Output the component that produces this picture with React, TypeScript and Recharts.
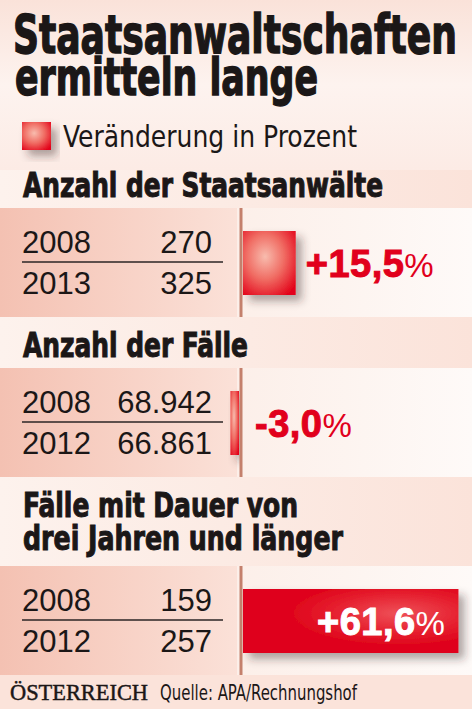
import React from "react";
import { BarChart, Bar, XAxis, YAxis, ReferenceLine } from "recharts";

// data
const headings = [
  ["Anzahl der Staatsanwälte"],
  ["Anzahl der Fälle"],
  ["Fälle mit Dauer von", "drei Jahren und länger"],
];
const fromYears = ["2008", "2008", "2008"];
const toYears = ["2013", "2012", "2012"];
const fromValues = ["270", "68.942", "159"];
const toValues = ["325", "66.861", "257"];
const changes = [15.5, -3.0, 61.6];

// layout
const W = 472;
const H = 709;
const BAND_H = 109;
const bandTop = [208, 368, 566];
const headingBase = [[197], [357], [517, 550]];
const headingWidth = [[360], [225], [275, 320]];
const X_MIN = -68.27;
const X_MAX = 65.44;

const RED = "#e1001c";
const INK = "#1b1717";
const COND = "'Liberation Sans Narrow', 'DejaVu Sans Condensed', 'Liberation Sans', Arial, sans-serif";
const SANS = "'Liberation Sans', Arial, sans-serif";

const fmt = (v: number) =>
  (v > 0 ? "+" : "-") + Math.abs(v).toFixed(1).replace(".", ",");

function ChangeBar(props: any) {
  const { x, y, width, height, payload } = props;
  const v = payload.change;
  const left = Math.min(x, x + width);
  const right = Math.max(x, x + width);
  const x0 = v >= 0 ? left + 2 : left;
  const x1 = v >= 0 ? right : right - 2;
  const wide = x1 - x0 > 120;
  const base = y + height / 2 + 14;
  let tx = x1 + 10;
  let anchor: "start" | "end" = "start";
  let color = RED;
  if (wide) {
    tx = x1 - 13;
    anchor = "end";
    color = "#ffffff";
  } else if (v < 0) {
    tx = right + 14;
  }
  return (
    <g>
      <rect
        x={x0}
        y={y}
        width={Math.max(x1 - x0, 1)}
        height={height}
        fill={wide ? "url(#barWide)" : "url(#barSoft)"}
        filter="url(#barShadow)"
      />
      <text
        x={tx}
        y={base}
        textAnchor={anchor}
        fill={color}
        fontFamily={SANS}
        fontWeight={700}
        fontSize={38}
        letterSpacing={0.5}
      >
        <tspan stroke={color} strokeWidth={1}>{fmt(v)}</tspan>
        <tspan fontWeight={400} fontSize={33}>%</tspan>
      </text>
    </g>
  );
}

function Panel({ i }: { i: number }) {
  const data = [{ name: "p" + i, change: changes[i] }];
  return (
    <div style={{ position: "absolute", left: 0, top: bandTop[i] }}>
      <BarChart
        width={W}
        height={BAND_H}
        data={data}
        layout="vertical"
        margin={{ top: 0, right: 0, bottom: 0, left: 0 }}
      >
        <XAxis type="number" domain={[X_MIN, X_MAX]} hide allowDataOverflow />
        <YAxis type="category" dataKey="name" hide />
        <ReferenceLine x={0} stroke="#c4806c" strokeWidth={3} />
        <Bar
          dataKey="change"
          barSize={64}
          shape={<ChangeBar />}
          isAnimationActive={false}
        />
      </BarChart>
    </div>
  );
}

function Background() {
  return (
    <svg width={W} height={H} style={{ position: "absolute", left: 0, top: 0 }}>
      <defs>
        <linearGradient id="topBg" x1="0" y1="0" x2="0" y2="1">
          <stop offset="0" stopColor="#fae2d9" />
          <stop offset="0.5" stopColor="#fdf3ef" />
          <stop offset="1" stopColor="#fcebe5" />
        </linearGradient>
        <linearGradient id="headBg" x1="0" y1="0" x2="1" y2="0">
          <stop offset="0" stopColor="#fdf2ed" />
          <stop offset="1" stopColor="#fbe3da" />
        </linearGradient>
        <linearGradient id="bandLeft" x1="0" y1="0" x2="1" y2="0">
          <stop offset="0" stopColor="#f4c1b2" />
          <stop offset="1" stopColor="#fbe1d8" />
        </linearGradient>
        <linearGradient id="bandRight" x1="0" y1="0" x2="1" y2="0">
          <stop offset="0" stopColor="#fcefe9" />
          <stop offset="1" stopColor="#fefaf8" />
        </linearGradient>
        <radialGradient id="barSoft" cx="0.42" cy="0.4" r="0.72">
          <stop offset="0" stopColor="#f8bcae" />
          <stop offset="0.5" stopColor="#f06c63" />
          <stop offset="1" stopColor="#e3051b" />
        </radialGradient>
        <radialGradient id="barWide" cx="0.72" cy="0.38" r="0.5">
          <stop offset="0" stopColor="#ee5058" />
          <stop offset="0.6" stopColor="#e6202f" />
          <stop offset="1" stopColor="#df041c" />
        </radialGradient>
        <filter id="barShadow" x="-20%" y="-20%" width="150%" height="160%">
          <feDropShadow dx="6" dy="6" stdDeviation="4" floodColor="#3a2a28" floodOpacity="0.4" />
        </filter>
      </defs>

      <rect x={0} y={0} width={W} height={H} fill="url(#headBg)" />
      <rect x={0} y={0} width={W} height={bandTop[0] - 38} fill="url(#topBg)" />
      {bandTop.map((t, i) => (
        <g key={i}>
          <rect x={0} y={t} width={237} height={BAND_H} fill="url(#bandLeft)" />
          <rect x={237} y={t} width={W - 237} height={BAND_H} fill="url(#bandRight)" />
        </g>
      ))}
      <rect x={0} y={bandTop[2] + BAND_H} width={W} height={H - bandTop[2] - BAND_H} fill="#fbe3da" />

      <g fill={INK} stroke={INK} fontFamily={COND} fontWeight={700}>
        <text x={13} y={53} fontSize={54} strokeWidth={1.4}
          textLength={444} lengthAdjust="spacingAndGlyphs">Staatsanwaltschaften</text>
        <text x={15} y={95} fontSize={52} strokeWidth={1.4}
          textLength={303} lengthAdjust="spacingAndGlyphs">ermitteln lange</text>
        {headings.map((lines, i) =>
          lines.map((s, j) => (
            <text key={i + "-" + j} x={23} y={headingBase[i][j]} fontSize={33} strokeWidth={1}
              textLength={headingWidth[i][j]} lengthAdjust="spacingAndGlyphs">{s}</text>
          ))
        )}
      </g>

      <rect x={22} y={122} width={29} height={28} fill="url(#barSoft)" filter="url(#barShadow)" />
      <text x={63} y={147} fontFamily={COND} fontSize={30} fill={INK}
        textLength={294} lengthAdjust="spacingAndGlyphs">Veränderung in Prozent</text>

      {bandTop.map((t, i) => (
        <g key={"t" + i} fontFamily={SANS} fontSize={31} fill={INK}>
          <text x={22} y={t + 45}>{fromYears[i]}</text>
          <text x={212} y={t + 45} textAnchor="end">{fromValues[i]}</text>
          <line x1={22} x2={223} y1={t + 54} y2={t + 54} stroke="#2b2424" strokeWidth={1.5} />
          <text x={22} y={t + 86}>{toYears[i]}</text>
          <text x={212} y={t + 86} textAnchor="end">{toValues[i]}</text>
        </g>
      ))}

      <text x={10} y={700} fontFamily="'Liberation Serif', 'DejaVu Serif', serif" fontSize={24}
        fill={INK} stroke={INK} strokeWidth={0.5} textLength={138} lengthAdjust="spacingAndGlyphs">ÖSTERREICH</text>
      <text x={160} y={700} fontFamily={COND} fontSize={21} fill={INK}
        textLength={197} lengthAdjust="spacingAndGlyphs">Quelle: APA/Rechnungshof</text>
    </svg>
  );
}

export default function App() {
  return (
    <div
      style={{
        position: "absolute",
        left: 0,
        top: 0,
        width: W,
        height: H,
        overflow: "hidden",
        background: "#fdf0eb",
      }}
    >
      <Background />
      {changes.map((_, i) => (
        <Panel key={i} i={i} />
      ))}
    </div>
  );
}
